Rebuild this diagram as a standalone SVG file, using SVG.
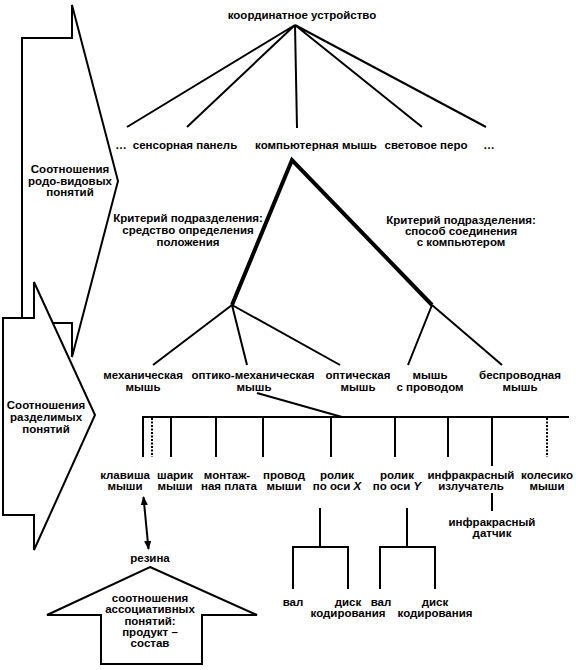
<svg xmlns="http://www.w3.org/2000/svg" width="576" height="670" viewBox="0 0 576 670">
<style>
text{font-family:"Liberation Sans",Arial,sans-serif;font-weight:bold;font-size:11.5px;fill:#000;text-anchor:middle}
.ln{stroke:#000;stroke-width:2;fill:none}
.thick{stroke:#000;stroke-width:4;fill:none}
.dot{stroke:#000;stroke-width:2;stroke-dasharray:2 1.5;fill:none}
.shape{stroke:#000;stroke-width:2;fill:#fff;stroke-linejoin:miter}
</style>
<defs>
<marker id="ah" viewBox="0 0 10 10" refX="9" refY="5" markerWidth="4.5" markerHeight="5" orient="auto-start-reverse" markerUnits="strokeWidth">
<path d="M0,1 L10,5 L0,9 Z" fill="#000"/>
</marker>
</defs>
<rect width="576" height="670" fill="#fff"/>

<g id="arrow-rodovidovye">
<polygon class="shape" points="72,5 118,181 72,357 72,323 22,323 22,38 72,38"/>
<text x="70" y="173">Соотношения</text>
<text x="70" y="185">родо-видовых</text>
<text x="70" y="196">понятий</text>
</g>
<g id="arrow-razdelimye">
<polygon class="shape" points="34,282 95,415 34,550 34,515 3,515 3,318 34,318"/>
<text x="46" y="409">Соотношения</text>
<text x="46" y="421">разделимых</text>
<text x="46" y="433">понятий</text>
</g>
<g id="arrow-associativnye">
<polygon class="shape" points="150,567 257,615 202,615 202,664 101,664 101,615 47,615"/>
<text x="150" y="602">соотношения</text>
<text x="150" y="613">ассоциативных</text>
<text x="150" y="625">понятий:</text>
<text x="150" y="636">продукт –</text>
<text x="150" y="647">состав</text>
</g>

<g id="connectors">
<path class="ln" d="M295,25 L127,127 M295,25 L187,127 M295,25 L297,128 M295,25 L422,127 M295,25 L486,127"/>
<path class="thick" d="M232,305 L292,160 L432,305"/>
<path class="ln" d="M232,305 L153,365 M232,305 L247,365 M232,305 L340,365"/>
<path class="ln" d="M432,305 L408,365 M432,305 L502,365"/>
<path class="ln" d="M257,393 L342,417"/>
<path class="ln" d="M143,457 L143,417 L569,417"/>
<path class="ln" d="M171,417 V457 M216,417 V457 M263,417 V457 M331,417 V457 M395,417 V457 M448,417 V457 M492,417 V466"/>
<path class="dot" d="M152,418 V457 M547,418 V457"/>
<path class="ln" d="M492,493 V511"/>
<path class="ln" d="M320,508 V547 M293,589 V547 H348 V589"/>
<path class="ln" d="M407,508 V547 M380,589 V547 H435 V589"/>
<path class="ln" d="M143.5,497 L148.5,549" stroke-width="1.6" marker-start="url(#ah)" marker-end="url(#ah)"/>
</g>

<g id="n-root"><text x="302" y="19">координатное устройство</text></g>
<g id="n-dots1"><text x="121" y="149">…</text></g>
<g id="n-sensor"><text x="185" y="149">сенсорная панель</text></g>
<g id="n-mouse"><text x="316" y="149">компьютерная мышь</text></g>
<g id="n-pen"><text x="426" y="149">световое перо</text></g>
<g id="n-dots2"><text x="489" y="149">…</text></g>

<g id="n-crit1">
<text x="188" y="222">Критерий подразделения:</text>
<text x="188" y="234">средство определения</text>
<text x="188" y="246">положения</text>
</g>
<g id="n-crit2">
<text x="461" y="224">Критерий подразделения:</text>
<text x="461" y="235">способ соединения</text>
<text x="461" y="246">с компьютером</text>
</g>

<g id="n-mech"><text x="143" y="379">механическая</text><text x="143" y="391">мышь</text></g>
<g id="n-optmech"><text x="253" y="379">оптико-механическая</text><text x="254" y="391">мышь</text></g>
<g id="n-opt"><text x="358" y="379">оптическая</text><text x="358" y="391">мышь</text></g>
<g id="n-wired"><text x="430" y="379">мышь</text><text x="430" y="391">с проводом</text></g>
<g id="n-wireless"><text x="520" y="379">беспроводная</text><text x="520" y="391">мышь</text></g>

<g id="n-button"><text x="125" y="479">клавиша</text><text x="125" y="490">мыши</text></g>
<g id="n-ball"><text x="175" y="479">шарик</text><text x="175" y="490">мыши</text></g>
<g id="n-board"><text x="227" y="479">монтаж-</text><text x="229" y="490">ная плата</text></g>
<g id="n-wire"><text x="284" y="479">провод</text><text x="284" y="490">мыши</text></g>
<g id="n-rollx"><text x="337" y="479">ролик</text><text x="337" y="490">по оси <tspan font-style="italic">X</tspan></text></g>
<g id="n-rolly"><text x="397" y="479">ролик</text><text x="397" y="490">по оси <tspan font-style="italic">Y</tspan></text></g>
<g id="n-emitter"><text x="471" y="479">инфракрасный</text><text x="471" y="490">излучатель</text></g>
<g id="n-wheel"><text x="547" y="479">колесико</text><text x="547" y="490">мыши</text></g>
<g id="n-sensor-ir"><text x="492" y="526">инфракрасный</text><text x="492" y="537">датчик</text></g>
<g id="n-rubber"><text x="150" y="562">резина</text></g>

<g id="n-shaft1"><text x="293" y="606">вал</text></g>
<g id="n-disk1"><text x="348" y="606">диск</text><text x="348" y="617">кодирования</text></g>
<g id="n-shaft2"><text x="381" y="606">вал</text></g>
<g id="n-disk2"><text x="435" y="606">диск</text><text x="435" y="617">кодирования</text></g>
</svg>
